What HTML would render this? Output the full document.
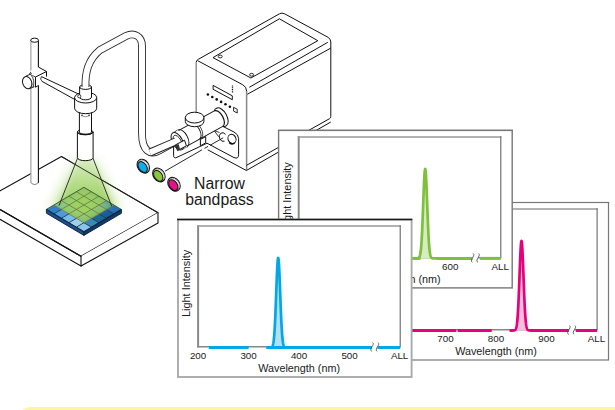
<!DOCTYPE html>
<html><head><meta charset="utf-8"><style>
html,body{margin:0;padding:0;background:#fff;}
body{width:615px;height:410px;overflow:hidden;position:relative;}
svg{position:absolute;left:0;top:0;}
text{font-family:"Liberation Sans",sans-serif;fill:#1a1a1a;}
</style></head><body>
<svg width="615" height="410" viewBox="0 0 615 410">
<defs>
  <radialGradient id="glow" cx="84" cy="200" r="55" gradientUnits="userSpaceOnUse" gradientTransform="translate(84 200) scale(0.95 1.1) translate(-84 -200)">
    <stop offset="0" stop-color="#9fd86a" stop-opacity="0.95"/>
    <stop offset="0.45" stop-color="#bfe39a" stop-opacity="0.7"/>
    <stop offset="1" stop-color="#ffffff" stop-opacity="0"/>
  </radialGradient>
  <linearGradient id="cone" x1="0" y1="157" x2="0" y2="210" gradientUnits="userSpaceOnUse">
    <stop offset="0" stop-color="#d8eec0"/>
    <stop offset="0.5" stop-color="#b0da80"/>
    <stop offset="1" stop-color="#8ecb4c"/>
  </linearGradient>
</defs>
<g stroke="#111" stroke-width="1.1" fill="none" stroke-linejoin="round" stroke-linecap="round">
  <!-- platform -->
  <path d="M61.5 156.6 L158 212.7 L81 256.3 L-16.4 200 Z" fill="#fff"/>
  <path d="M158 212.7 V222.9 L81 266.1 V256.3" fill="#fff"/>
  <path d="M0 209.5 L81 256.3" />
  <path d="M0 219.3 L81 266.1" />
</g>
<!-- glow -->
<filter id="blur" x="-50%" y="-50%" width="200%" height="200%"><feGaussianBlur stdDeviation="6"/></filter>
<filter id="blur2" x="-50%" y="-50%" width="200%" height="200%"><feGaussianBlur stdDeviation="2.5"/></filter>
<path d="M74 160 L50 210 L120 210 L97 160 Z" fill="url(#cone)" filter="url(#blur)" opacity="0.55"/>
<path d="M78 158 L59 206 L112 206 L93 158 Z" fill="url(#cone)" filter="url(#blur2)" opacity="0.85"/>
<path d="M61.5 156.6 L158 212.7" stroke="#222" stroke-width="0.9" fill="none"/>
<!-- chip -->
<g>
<path d="M46.4 209.4 L83.9 231.6 V235.4 L46.4 213.2 Z" fill="#1a4f8c" stroke="#0d1f38" stroke-width="0.9" stroke-linejoin="round"/>
<path d="M121.4 209.5 L83.9 231.6 V235.4 L121.4 213.3 Z" fill="#123a68" stroke="#0d1f38" stroke-width="0.9" stroke-linejoin="round"/>
<path d="M46.40 209.40 L53.90 204.98 L61.40 209.42 L53.90 213.84Z" fill="#2f80c8"/>
<path d="M53.90 213.84 L61.40 209.42 L68.90 213.86 L61.40 218.28Z" fill="#4c9bd8"/>
<path d="M61.40 218.28 L68.90 213.86 L76.40 218.30 L68.90 222.72Z" fill="#78bde8"/>
<path d="M68.90 222.72 L76.40 218.30 L83.90 222.74 L76.40 227.16Z" fill="#9ed0ea"/>
<path d="M76.40 227.16 L83.90 222.74 L91.40 227.18 L83.90 231.60Z" fill="#8ac6ec"/>
<path d="M83.90 222.74 L91.40 218.32 L98.90 222.76 L91.40 227.18Z" fill="#3888b8"/>
<path d="M91.40 218.32 L98.90 213.90 L106.40 218.34 L98.90 222.76Z" fill="#1a669a"/>
<path d="M98.90 213.90 L106.40 209.48 L113.90 213.92 L106.40 218.34Z" fill="#155e98"/>
<path d="M106.40 209.48 L113.90 205.06 L121.40 209.50 L113.90 213.92Z" fill="#2470b4"/>
<path d="M53.90 204.98 L61.40 200.56 L68.90 205.00 L61.40 209.42Z" fill="#7ec080"/>
<path d="M61.40 200.56 L68.90 196.14 L76.40 200.58 L68.90 205.00Z" fill="#8cc862"/>
<path d="M68.90 196.14 L76.40 191.72 L83.90 196.16 L76.40 200.58Z" fill="#8ec95e"/>
<path d="M76.40 191.72 L83.90 187.30 L91.40 191.74 L83.90 196.16Z" fill="#8ec860"/>
<path d="M83.90 196.16 L91.40 191.74 L98.90 196.18 L91.40 200.60Z" fill="#8ac65a"/>
<path d="M91.40 200.60 L98.90 196.18 L106.40 200.62 L98.90 205.04Z" fill="#86c45a"/>
<path d="M98.90 205.04 L106.40 200.62 L113.90 205.06 L106.40 209.48Z" fill="#5aa488"/>
<path d="M61.40 209.42 L68.90 205.00 L76.40 209.44 L68.90 213.86Z" fill="#88c660"/>
<path d="M68.90 213.86 L76.40 209.44 L83.90 213.88 L76.40 218.30Z" fill="#8cc864"/>
<path d="M76.40 218.30 L83.90 213.88 L91.40 218.32 L83.90 222.74Z" fill="#86c270"/>
<path d="M68.90 205.00 L76.40 200.58 L83.90 205.02 L76.40 209.44Z" fill="#8cc94c"/>
<path d="M76.40 209.44 L83.90 205.02 L91.40 209.46 L83.90 213.88Z" fill="#90cb4a"/>
<path d="M83.90 213.88 L91.40 209.46 L98.90 213.90 L91.40 218.32Z" fill="#82c058"/>
<path d="M76.40 200.58 L83.90 196.16 L91.40 200.60 L83.90 205.02Z" fill="#8cc94c"/>
<path d="M83.90 205.02 L91.40 200.60 L98.90 205.04 L91.40 209.46Z" fill="#8ac850"/>
<path d="M91.40 209.46 L98.90 205.04 L106.40 209.48 L98.90 213.90Z" fill="#78b866"/>
<path d="M59 206 L83.9 191 L112 206 L84 218 Z" fill="#b8e08a" opacity="0.35" filter="url(#blur2)"/>
<line x1="53.90" y1="204.98" x2="83.90" y2="222.74" stroke="#6a7440" stroke-width="0.9" stroke-opacity="0.9"/>
<line x1="83.90" y1="222.74" x2="91.40" y2="227.18" stroke="#1b3350" stroke-width="0.9"/>
<line x1="53.90" y1="213.84" x2="61.40" y2="209.42" stroke="#1b3350" stroke-width="0.9"/>
<line x1="61.40" y1="209.42" x2="91.40" y2="191.74" stroke="#6a7440" stroke-width="0.9" stroke-opacity="0.9"/>
<line x1="61.40" y1="200.56" x2="91.40" y2="218.32" stroke="#6a7440" stroke-width="0.9" stroke-opacity="0.9"/>
<line x1="91.40" y1="218.32" x2="98.90" y2="222.76" stroke="#1b3350" stroke-width="0.9"/>
<line x1="61.40" y1="218.28" x2="68.90" y2="213.86" stroke="#1b3350" stroke-width="0.9"/>
<line x1="68.90" y1="213.86" x2="98.90" y2="196.18" stroke="#6a7440" stroke-width="0.9" stroke-opacity="0.9"/>
<line x1="68.90" y1="196.14" x2="98.90" y2="213.90" stroke="#6a7440" stroke-width="0.9" stroke-opacity="0.9"/>
<line x1="98.90" y1="213.90" x2="106.40" y2="218.34" stroke="#1b3350" stroke-width="0.9"/>
<line x1="68.90" y1="222.72" x2="76.40" y2="218.30" stroke="#1b3350" stroke-width="0.9"/>
<line x1="76.40" y1="218.30" x2="106.40" y2="200.62" stroke="#6a7440" stroke-width="0.9" stroke-opacity="0.9"/>
<line x1="76.40" y1="191.72" x2="106.40" y2="209.48" stroke="#6a7440" stroke-width="0.9" stroke-opacity="0.9"/>
<line x1="106.40" y1="209.48" x2="113.90" y2="213.92" stroke="#1b3350" stroke-width="0.9"/>
<line x1="76.40" y1="227.16" x2="83.90" y2="222.74" stroke="#1b3350" stroke-width="0.9"/>
<line x1="83.90" y1="222.74" x2="113.90" y2="205.06" stroke="#6a7440" stroke-width="0.9" stroke-opacity="0.9"/>
<path d="M46.4 209.4 L83.9 187.3 L121.4 209.5" fill="none" stroke="#4a5a3a" stroke-width="1" stroke-linejoin="round"/>
<path d="M46.4 209.4 L83.9 231.6 L121.4 209.5" fill="none" stroke="#0d1f38" stroke-width="1.1" stroke-linejoin="round"/>
</g>
<path d="M77.8 157.5 L59 205.6 M92.7 157.5 L111.7 206.3" stroke="#222" stroke-width="0.9" fill="none"/>
<!-- pole -->
<g stroke-linejoin="round">
  <rect x="30.9" y="40" width="7.5" height="143.5" fill="#fff" stroke="none"/>
  <path d="M30.9 40 V182.7 Q34.6 186.5 38.4 182.7" fill="none" stroke="#999" stroke-width="1.1"/>
  <path d="M38.4 40 V182.7" fill="none" stroke="#111" stroke-width="1.1"/>
  <ellipse cx="34.6" cy="40.2" rx="3.9" ry="2.1" fill="#fff" stroke="#111" stroke-width="1"/>
</g>
<g stroke="#111" stroke-width="1" fill="#fff" stroke-linejoin="round">
  <!-- clamp block -->
  <path d="M27.5 73.7 L31 70.2 L38.5 67.1 L46.5 71.5 V76.6 L38.5 85.4 L35.5 87.2 L28 83 Z" stroke="none"/>
  <path d="M38.5 67.1 L46.5 71.5 L35.5 77 M35.5 77 V87.2 L38.5 85.4 M46.5 71.5 V76.6" fill="none"/>
  <path d="M35.5 77 L29.5 74 M29.5 74 L31 72" fill="none" stroke-width="0.8"/>
  <!-- knob -->
  <path d="M25.5 76.2 L31.8 73.6 L35.2 86.4 L29 88.8 Z" stroke="none"/>
  <path d="M26 76.1 L31.8 73.6 M29 88.8 L34.5 86.6" fill="none" stroke-width="0.9"/>
  <path d="M30.5 74.3 Q35.5 80 33 87.3" fill="none" stroke-width="0.8"/>
  <ellipse cx="27.2" cy="82.6" rx="4.5" ry="6.2" transform="rotate(-20 27.2 82.6)"/>
  <!-- arm rod -->
  <path d="M41.4 76.6 L78.7 94.1 L74.8 99.5 L42.1 81.4 Z" stroke="none"/>
  <path d="M41.4 76.6 L78.7 94.1 M42.1 81.4 L74.8 99.5" fill="none"/>
  <path d="M41.4 76.6 Q39.5 79 42.1 81.4" fill="none" stroke-width="0.8"/>
</g>
<!-- fiber tube -->
<path d="M85.5 88 C85 72 88 60 100 50 L126 36 C134 32 142 36 142 46 V133 C142 151 150 156 160 150.1 L176 141.4" fill="none" stroke="#2a2a2a" stroke-width="7.8" stroke-linecap="butt"/>
<path d="M85.5 88 C85 72 88 60 100 50 L126 36 C134 32 142 36 142 46 V133 C142 151 150 156 160 150.1 L176 141.4" fill="none" stroke="#fff" stroke-width="6" stroke-linecap="butt"/>
<!-- lamp head -->
<g stroke="#111" stroke-width="1" fill="#fff" stroke-linejoin="round">
  <path d="M77.4 132 V157.7 A7.85 3 0 0 0 93.1 157.7 V132 Z"/>
  <ellipse cx="85.25" cy="132" rx="7.85" ry="2.7"/>
  <path d="M79.4 112 V132.3 A6 1.8 0 0 0 91.5 132.3 V112 Z"/>
  <path d="M77.4 132 A7.85 2.7 0 0 0 93.1 132" fill="none"/>
  <circle cx="82" cy="115.3" r="0.9" fill="#333" stroke="none"/>
  <circle cx="89" cy="115.3" r="0.9" fill="#333" stroke="none"/>
  <path d="M82.5 116 Q85.5 117.5 88.5 116" fill="none" stroke="#777" stroke-width="0.8"/>
  <path d="M74.6 97.6 V108.3 A11.05 5.4 0 0 0 96.7 108.3 V97.6 Z"/>
  <ellipse cx="85.65" cy="97.6" rx="11.05" ry="5.4"/>
  <path d="M79.6 87 V97 A5.95 2.8 0 0 0 91.5 97 V87" />
  <path d="M79.6 87 A5.95 2.4 0 0 0 91.5 87" fill="none"/>
  <path d="M79.6 87 A5.95 2.4 0 0 1 81.8 85.2 M91.5 87 A5.95 2.4 0 0 0 89.3 85.2" fill="none"/>
  <circle cx="79.3" cy="96.3" r="1.6" fill="#fff" stroke-width="0.8"/>
</g>
<!-- light source box -->
<g stroke="#111" stroke-width="1" fill="#fff" stroke-linejoin="round">
  <path d="M196.2 143.8 V62.5 Q196.2 60.3 198.5 59.2 L279.5 13.8 Q282 12.4 284.6 13.8 L328 37.3 Q330.8 38.9 330.8 42 V122.5 L246.4 170.5 Z" stroke="none"/>
  <path d="M196.2 62.5 Q196.2 60.3 198.5 59.2 L279.5 13.8 Q282 12.4 284.6 13.8 L328 37.3 Q330.8 38.9 330.8 42 V116.5 Q330.8 118 329.5 118.7" fill="none"/>
  <path d="M196.2 62.5 V120" fill="none" stroke="#888" stroke-width="1.4"/>
  <path d="M197.5 60.6 L242.8 84.8 Q246.6 87 246.6 91" fill="none"/>
  <path d="M246.6 91 V170" fill="none" stroke="#888" stroke-width="1.5"/>
  <path d="M246.4 165.4 L329.5 118.7 M246.4 170.5 L330.8 122" fill="none"/>
  <path d="M249.3 87.3 L327.8 42.3" fill="none"/>
  <path d="M247.3 94.3 L330.8 48.1" fill="none"/>
  <path d="M213 57.6 L279.4 18.8 L317.8 40.7 L250.9 78 Z" fill="none"/>
  <ellipse cx="220.2" cy="56.5" rx="2" ry="1.4" stroke-width="0.9"/>
  <ellipse cx="251.6" cy="74.8" rx="2" ry="1.4" stroke-width="0.9"/>
  <path d="M213.1 85.4 L232.3 95.8 V99.7 L213.1 89.3 Z"/>
</g>
<!-- box front details -->
<g stroke="#111" stroke-width="1" fill="none">
  <path d="M232.5 85.4 V93.1" stroke-dasharray="1 0.8" stroke-width="1.3"/>
  <g fill="#111" stroke="none">
    <circle cx="207.9" cy="94.5" r="1.3"/><circle cx="212.3" cy="97" r="1.3"/><circle cx="216.7" cy="99.4" r="1.3"/>
    <circle cx="221.1" cy="101.9" r="1.3"/><circle cx="225.5" cy="104.3" r="1.3"/><circle cx="229.9" cy="106.8" r="1.3"/>
  </g>
  <path d="M233.6 107.3 L237.2 109.2 V113 L233.6 111.1 Z" stroke-width="0.9"/>
</g>
<!-- plate -->
<g stroke="#111" stroke-width="1" fill="#fff" stroke-linejoin="round">
  <path d="M207.7 149.8 L246.4 170.5" fill="none"/>
  <path d="M221.3 125.6 L234 132 Q238.6 134.5 238.6 138.5 V154.5 Q238.6 159.5 234 157.6 L207 143.2 L177 157.3 Q173.6 159 173.6 155.3 V137.6 Q173.6 134 177 132.5 Z"/>
  <path d="M225.5 134.3 A3.6 4.4 -20 1 0 224.5 141.2" fill="none"/>
  <ellipse cx="232" cy="138.9" rx="3.9" ry="4.7" transform="rotate(-25 232 138.9)"/>
  <path d="M229.2 142.5 A3.9 4.7 -25 0 0 234.6 143" fill="none" stroke-width="1.6"/>
  <path d="M200.4 139.5 L205.7 136.6 V142.9 L200.4 145.8 Z"/>
  <path d="M214 130.5 L219.5 132.5 M214.5 131 L218.6 136.8" fill="none" stroke-width="0.8"/>
</g>
<!-- connector cylinder -->
<g transform="translate(180 139.8) rotate(-28.8)" stroke="#111" stroke-width="1" fill="#fff" stroke-linejoin="round">
  <path d="M0 -8.8 H44 L45.5 -10 H47.3 A5.4 10 0 0 1 47.3 10 H45.5 L44 8.8 H0 Z" stroke="none"/>
  <path d="M3 -8.8 H44 M3 8.8 H44" fill="none"/>
  <path d="M44 -8.8 L45.5 -10 H47.3 A5.4 10 0 0 1 47.3 10 H45.5 L44 8.8" fill="none"/>
  <path d="M44 -8.8 A4.6 8.8 0 0 1 44 8.8" fill="none" stroke-width="1.2"/>
  <path d="M17.5 -8.8 A4.5 8.8 0 0 1 17.5 8.8" fill="none" stroke-width="0.9"/>
  <path d="M19.5 -8.6 A4.5 8.6 0 0 1 19.5 8.6" fill="none" stroke-width="0.7"/>
  <path d="M-3 -9.6 H3 V9.6 H-3 Z" stroke="none"/>
  <path d="M-3 -9.6 H3 M-3 9.6 H3" fill="none" stroke-dasharray="0.8 0.6"/>
  <ellipse cx="-3" cy="0" rx="5" ry="9.6"/>
  <ellipse cx="-3" cy="0.5" rx="3.5" ry="7" fill="none" stroke-width="0.8"/>
  <path d="M3 -9.6 A5 9.6 0 0 1 3 9.6" fill="none" stroke-width="0.9"/>
</g>
<!-- fiber tube into collar -->
<path d="M150 152.5 L176 141.4" fill="none" stroke="#222" stroke-width="7.9"/>
<path d="M150 152.5 L176.5 141.1" fill="none" stroke="#fff" stroke-width="6"/>
<g stroke="#111" stroke-width="1" fill="#fff" stroke-linejoin="round">
  <path d="M175.6 144.8 L184.5 140.2 L186.4 145.8 L177.5 150.6 Z"/>
  <path d="M175.9 145.2 L178.5 143.8 L180 149.3 L177.6 150.5 Z" fill="#333" stroke="none"/>
</g>
<!-- knob -->
<g stroke="#111" stroke-width="1" fill="#fff">
  <path d="M185.3 117.6 V121.5 A9.3 5.2 0 0 0 203.9 121.5 V117.6 Z"/>
  <ellipse cx="194.6" cy="117.6" rx="9.3" ry="5.4"/>
</g>
<!-- filters -->
<g stroke="#111" stroke-width="1.1">
  <g transform="translate(143.3 166.2) rotate(-35)">
    <ellipse cx="0" cy="0" rx="5.6" ry="7.4" fill="#fff"/>
    <ellipse cx="0.6" cy="0" rx="4.2" ry="6.3" fill="none" stroke="#999" stroke-width="0.8"/>
    <ellipse cx="-1" cy="0.3" rx="3.9" ry="6" fill="#10aee8" stroke="#111" stroke-width="1"/>
  </g>
  <g transform="translate(158.9 175) rotate(-35)">
    <ellipse cx="0" cy="0" rx="5.6" ry="7.4" fill="#fff"/>
    <ellipse cx="0.6" cy="0" rx="4.2" ry="6.3" fill="none" stroke="#999" stroke-width="0.8"/>
    <ellipse cx="-1" cy="0.3" rx="3.9" ry="6" fill="#8cc63f" stroke="#111" stroke-width="1"/>
  </g>
  <g transform="translate(174 184.3) rotate(-35)">
    <ellipse cx="0" cy="0" rx="5.6" ry="7.4" fill="#fff"/>
    <ellipse cx="0.6" cy="0" rx="4.2" ry="6.3" fill="none" stroke="#999" stroke-width="0.8"/>
    <ellipse cx="-1" cy="0.3" rx="3.9" ry="6" fill="#e5128a" stroke="#111" stroke-width="1"/>
  </g>
</g>
<path d="M165 171.2 L202 149.8 M204.5 148.4 L208 146.4 M210 145.3 L223.2 137.8" stroke="#111" stroke-width="0.9" fill="none"/>
<text x="219.5" y="188.7" font-size="15.8" text-anchor="middle">Narrow</text>
<text x="219.5" y="204.6" font-size="15.8" text-anchor="middle">bandpass</text>

<rect x="374.9" y="202.5" width="233.6" height="157.5" fill="#fff" stroke="#777" stroke-width="1.2"/>
<line x1="374.29999999999995" y1="202.5" x2="609.2" y2="202.5" stroke="#777" stroke-width="1.2"/>
<line x1="395.0" y1="330.5" x2="395.0" y2="208.25" stroke="#8a8a8a" stroke-width="2"/>
<line x1="394.0" y1="209.0" x2="597.5999999999999" y2="209.0" stroke="#999" stroke-width="1.5"/>
<line x1="597.0999999999999" y1="208.25" x2="597.0999999999999" y2="329.8" stroke="#666" stroke-width="1.1"/>
<line x1="394.0" y1="329.8" x2="597.5999999999999" y2="329.8" stroke="#888" stroke-width="1.5"/>
<path d="M509.50 330.50 L509.75 330.50 L510.00 330.50 L510.25 330.50 L510.50 330.50 L510.75 330.50 L511.00 330.50 L511.25 330.50 L511.50 330.50 L511.75 330.50 L512.00 330.50 L512.25 330.50 L512.50 330.50 L512.75 330.49 L513.00 330.49 L513.25 330.48 L513.50 330.47 L513.75 330.45 L514.00 330.42 L514.25 330.37 L514.50 330.30 L514.75 330.20 L515.00 330.04 L515.25 329.82 L515.50 329.51 L515.75 329.06 L516.00 328.46 L516.25 327.65 L516.50 326.57 L516.75 325.17 L517.00 323.38 L517.25 321.14 L517.50 318.39 L517.75 315.07 L518.00 311.14 L518.25 306.60 L518.50 301.44 L518.75 295.72 L519.00 289.52 L519.25 282.97 L519.50 276.22 L519.75 269.47 L520.00 262.94 L520.25 256.88 L520.50 251.52 L520.75 247.08 L521.00 243.75 L521.25 241.70 L521.50 241.00 L521.75 241.70 L522.00 243.75 L522.25 247.08 L522.50 251.52 L522.75 256.88 L523.00 262.94 L523.25 269.47 L523.50 276.22 L523.75 282.97 L524.00 289.52 L524.25 295.72 L524.50 301.44 L524.75 306.60 L525.00 311.14 L525.25 315.07 L525.50 318.39 L525.75 321.14 L526.00 323.38 L526.25 325.17 L526.50 326.57 L526.75 327.65 L527.00 328.46 L527.25 329.06 L527.50 329.51 L527.75 329.82 L528.00 330.04 L528.25 330.20 L528.50 330.30 L528.75 330.37 L529.00 330.42 L529.25 330.45 L529.50 330.47 L529.75 330.48 L530.00 330.49 L530.25 330.49 L530.50 330.50 L530.75 330.50 L531.00 330.50 L531.25 330.50 L531.50 330.50 L531.75 330.50 L532.00 330.50 L532.25 330.50 L532.50 330.50 L532.75 330.50 L533.00 330.50 L533.25 330.50 L533.50 330.50 Z" fill="#f5c0da" stroke="none"/>
<path d="M509.50 330.50 L509.75 330.50 L510.00 330.50 L510.25 330.50 L510.50 330.50 L510.75 330.50 L511.00 330.50 L511.25 330.50 L511.50 330.50 L511.75 330.50 L512.00 330.50 L512.25 330.50 L512.50 330.50 L512.75 330.49 L513.00 330.49 L513.25 330.48 L513.50 330.47 L513.75 330.45 L514.00 330.42 L514.25 330.37 L514.50 330.30 L514.75 330.20 L515.00 330.04 L515.25 329.82 L515.50 329.51 L515.75 329.06 L516.00 328.46 L516.25 327.65 L516.50 326.57 L516.75 325.17 L517.00 323.38 L517.25 321.14 L517.50 318.39 L517.75 315.07 L518.00 311.14 L518.25 306.60 L518.50 301.44 L518.75 295.72 L519.00 289.52 L519.25 282.97 L519.50 276.22 L519.75 269.47 L520.00 262.94 L520.25 256.88 L520.50 251.52 L520.75 247.08 L521.00 243.75 L521.25 241.70 L521.50 241.00 L521.75 241.70 L522.00 243.75 L522.25 247.08 L522.50 251.52 L522.75 256.88 L523.00 262.94 L523.25 269.47 L523.50 276.22 L523.75 282.97 L524.00 289.52 L524.25 295.72 L524.50 301.44 L524.75 306.60 L525.00 311.14 L525.25 315.07 L525.50 318.39 L525.75 321.14 L526.00 323.38 L526.25 325.17 L526.50 326.57 L526.75 327.65 L527.00 328.46 L527.25 329.06 L527.50 329.51 L527.75 329.82 L528.00 330.04 L528.25 330.20 L528.50 330.30 L528.75 330.37 L529.00 330.42 L529.25 330.45 L529.50 330.47 L529.75 330.48 L530.00 330.49 L530.25 330.49 L530.50 330.50 L530.75 330.50 L531.00 330.50 L531.25 330.50 L531.50 330.50 L531.75 330.50 L532.00 330.50 L532.25 330.50 L532.50 330.50 L532.75 330.50 L533.00 330.50 L533.25 330.50 L533.50 330.50" fill="none" stroke="#e6007e" stroke-width="2.7" stroke-linejoin="round"/>
<line x1="400" y1="330.5" x2="456.3" y2="330.5" stroke="#e6007e" stroke-width="3"/>
<line x1="457.6" y1="330.5" x2="491.7" y2="330.5" stroke="#e6007e" stroke-width="3"/>
<line x1="510.5" y1="330.5" x2="513.5" y2="330.5" stroke="#e6007e" stroke-width="3"/>
<line x1="530" y1="330.5" x2="573" y2="330.5" stroke="#e6007e" stroke-width="3"/>
<line x1="575.8" y1="330.5" x2="597.0999999999999" y2="330.5" stroke="#e6007e" stroke-width="3"/>
<rect x="568.9" y="328.5" width="5.4" height="4" fill="#fff"/>
<path d="M569.5 325.5 C571.1 326.8 569.4 328.8 568.3 330.8 S567.6999999999999 333.8 568.6999999999999 334.5" fill="none" stroke="#555" stroke-width="0.9"/>
<path d="M575.0 325.5 C576.6 326.8 574.9 328.8 573.8 330.8 S573.1999999999999 333.8 574.1999999999999 334.5" fill="none" stroke="#555" stroke-width="0.9"/>
<text x="445.5" y="341.8" font-size="9.8" text-anchor="middle">700</text>
<text x="496.0" y="341.8" font-size="9.8" text-anchor="middle">800</text>
<text x="546.5" y="341.8" font-size="9.8" text-anchor="middle">900</text>
<text x="596.5" y="341.8" font-size="9.8" text-anchor="middle">ALL</text>
<text x="496.04999999999995" y="355.0" font-size="10.8" text-anchor="middle">Wavelength (nm)</text>
<text transform="translate(387.2 266.4) rotate(-90)" font-size="10.9" text-anchor="middle">Light Intensity</text>
<rect x="278.6" y="130.4" width="233.6" height="157.5" fill="#fff" stroke="#777" stroke-width="1.4"/>
<line x1="277.90000000000003" y1="130.4" x2="512.9000000000001" y2="130.4" stroke="#777" stroke-width="1.4"/>
<line x1="298.70000000000005" y1="258.4" x2="298.70000000000005" y2="136.15" stroke="#8a8a8a" stroke-width="2"/>
<line x1="297.70000000000005" y1="136.9" x2="501.3" y2="136.9" stroke="#999" stroke-width="1.5"/>
<line x1="500.8" y1="136.15" x2="500.8" y2="257.7" stroke="#666" stroke-width="1.1"/>
<line x1="297.70000000000005" y1="257.7" x2="501.3" y2="257.7" stroke="#888" stroke-width="1.5"/>
<path d="M413.20 258.40 L413.45 258.40 L413.70 258.40 L413.95 258.40 L414.20 258.40 L414.45 258.40 L414.70 258.40 L414.95 258.40 L415.20 258.40 L415.45 258.40 L415.70 258.40 L415.95 258.40 L416.20 258.40 L416.45 258.39 L416.70 258.39 L416.95 258.38 L417.20 258.37 L417.45 258.35 L417.70 258.32 L417.95 258.27 L418.20 258.20 L418.45 258.10 L418.70 257.94 L418.95 257.72 L419.20 257.41 L419.45 256.96 L419.70 256.36 L419.95 255.55 L420.20 254.47 L420.45 253.07 L420.70 251.28 L420.95 249.04 L421.20 246.29 L421.45 242.97 L421.70 239.04 L421.95 234.50 L422.20 229.34 L422.45 223.62 L422.70 217.42 L422.95 210.87 L423.20 204.12 L423.45 197.37 L423.70 190.84 L423.95 184.78 L424.20 179.42 L424.45 174.98 L424.70 171.65 L424.95 169.60 L425.20 168.90 L425.45 169.60 L425.70 171.65 L425.95 174.98 L426.20 179.42 L426.45 184.78 L426.70 190.84 L426.95 197.37 L427.20 204.12 L427.45 210.87 L427.70 217.42 L427.95 223.62 L428.20 229.34 L428.45 234.50 L428.70 239.04 L428.95 242.97 L429.20 246.29 L429.45 249.04 L429.70 251.28 L429.95 253.07 L430.20 254.47 L430.45 255.55 L430.70 256.36 L430.95 256.96 L431.20 257.41 L431.45 257.72 L431.70 257.94 L431.95 258.10 L432.20 258.20 L432.45 258.27 L432.70 258.32 L432.95 258.35 L433.20 258.37 L433.45 258.38 L433.70 258.39 L433.95 258.39 L434.20 258.40 L434.45 258.40 L434.70 258.40 L434.95 258.40 L435.20 258.40 L435.45 258.40 L435.70 258.40 L435.95 258.40 L436.20 258.40 L436.45 258.40 L436.70 258.40 L436.95 258.40 L437.20 258.40 Z" fill="#d8ecc4" stroke="none"/>
<path d="M413.20 258.40 L413.45 258.40 L413.70 258.40 L413.95 258.40 L414.20 258.40 L414.45 258.40 L414.70 258.40 L414.95 258.40 L415.20 258.40 L415.45 258.40 L415.70 258.40 L415.95 258.40 L416.20 258.40 L416.45 258.39 L416.70 258.39 L416.95 258.38 L417.20 258.37 L417.45 258.35 L417.70 258.32 L417.95 258.27 L418.20 258.20 L418.45 258.10 L418.70 257.94 L418.95 257.72 L419.20 257.41 L419.45 256.96 L419.70 256.36 L419.95 255.55 L420.20 254.47 L420.45 253.07 L420.70 251.28 L420.95 249.04 L421.20 246.29 L421.45 242.97 L421.70 239.04 L421.95 234.50 L422.20 229.34 L422.45 223.62 L422.70 217.42 L422.95 210.87 L423.20 204.12 L423.45 197.37 L423.70 190.84 L423.95 184.78 L424.20 179.42 L424.45 174.98 L424.70 171.65 L424.95 169.60 L425.20 168.90 L425.45 169.60 L425.70 171.65 L425.95 174.98 L426.20 179.42 L426.45 184.78 L426.70 190.84 L426.95 197.37 L427.20 204.12 L427.45 210.87 L427.70 217.42 L427.95 223.62 L428.20 229.34 L428.45 234.50 L428.70 239.04 L428.95 242.97 L429.20 246.29 L429.45 249.04 L429.70 251.28 L429.95 253.07 L430.20 254.47 L430.45 255.55 L430.70 256.36 L430.95 256.96 L431.20 257.41 L431.45 257.72 L431.70 257.94 L431.95 258.10 L432.20 258.20 L432.45 258.27 L432.70 258.32 L432.95 258.35 L433.20 258.37 L433.45 258.38 L433.70 258.39 L433.95 258.39 L434.20 258.40 L434.45 258.40 L434.70 258.40 L434.95 258.40 L435.20 258.40 L435.45 258.40 L435.70 258.40 L435.95 258.40 L436.20 258.40 L436.45 258.40 L436.70 258.40 L436.95 258.40 L437.20 258.40" fill="none" stroke="#7dc03a" stroke-width="2.7" stroke-linejoin="round"/>
<line x1="400" y1="258.4" x2="420.6" y2="258.4" stroke="#7dc03a" stroke-width="3"/>
<line x1="437" y1="258.4" x2="477" y2="258.4" stroke="#7dc03a" stroke-width="3"/>
<line x1="479.8" y1="258.4" x2="500.8" y2="258.4" stroke="#7dc03a" stroke-width="3"/>
<rect x="472.6" y="256.4" width="5.4" height="4" fill="#fff"/>
<path d="M473.20000000000005 253.39999999999998 C474.8 254.7 473.1 256.7 472.0 258.7 S471.40000000000003 261.7 472.40000000000003 262.4" fill="none" stroke="#555" stroke-width="0.9"/>
<path d="M478.70000000000005 253.39999999999998 C480.3 254.7 478.6 256.7 477.5 258.7 S476.90000000000003 261.7 477.90000000000003 262.4" fill="none" stroke="#555" stroke-width="0.9"/>
<text x="298.70000000000005" y="269.70000000000005" font-size="9.8" text-anchor="middle">300</text>
<text x="349.20000000000005" y="269.70000000000005" font-size="9.8" text-anchor="middle">400</text>
<text x="399.70000000000005" y="269.70000000000005" font-size="9.8" text-anchor="middle">500</text>
<text x="450.20000000000005" y="269.70000000000005" font-size="9.8" text-anchor="middle">600</text>
<text x="500.20000000000005" y="269.70000000000005" font-size="9.8" text-anchor="middle">ALL</text>
<text x="399.75" y="282.9" font-size="10.8" text-anchor="middle">Wavelength (nm)</text>
<text transform="translate(290.90000000000003 195.8) rotate(-90)" font-size="10.9" text-anchor="middle">Light Intensity</text>
<rect x="178" y="219.5" width="233.6" height="157.5" fill="#fff" stroke="#aaa" stroke-width="1.9"/>
<line x1="177.05" y1="219.5" x2="412.3" y2="219.5" stroke="#1a1a1a" stroke-width="1.3"/>
<line x1="198.1" y1="347.5" x2="198.1" y2="225.25" stroke="#8a8a8a" stroke-width="2"/>
<line x1="197.1" y1="226.0" x2="400.7" y2="226.0" stroke="#999" stroke-width="1.5"/>
<line x1="400.2" y1="225.25" x2="400.2" y2="346.8" stroke="#666" stroke-width="1.1"/>
<line x1="197.1" y1="346.8" x2="400.7" y2="346.8" stroke="#888" stroke-width="1.5"/>
<path d="M266.20 347.50 L266.45 347.50 L266.70 347.50 L266.95 347.50 L267.20 347.50 L267.45 347.50 L267.70 347.50 L267.95 347.50 L268.20 347.50 L268.45 347.50 L268.70 347.50 L268.95 347.50 L269.20 347.50 L269.45 347.49 L269.70 347.49 L269.95 347.48 L270.20 347.47 L270.45 347.45 L270.70 347.42 L270.95 347.37 L271.20 347.30 L271.45 347.20 L271.70 347.04 L271.95 346.82 L272.20 346.51 L272.45 346.06 L272.70 345.46 L272.95 344.65 L273.20 343.57 L273.45 342.17 L273.70 340.38 L273.95 338.14 L274.20 335.39 L274.45 332.07 L274.70 328.14 L274.95 323.60 L275.20 318.44 L275.45 312.72 L275.70 306.52 L275.95 299.97 L276.20 293.22 L276.45 286.47 L276.70 279.94 L276.95 273.88 L277.20 268.52 L277.45 264.08 L277.70 260.75 L277.95 258.70 L278.20 258.00 L278.45 258.70 L278.70 260.75 L278.95 264.08 L279.20 268.52 L279.45 273.88 L279.70 279.94 L279.95 286.47 L280.20 293.22 L280.45 299.97 L280.70 306.52 L280.95 312.72 L281.20 318.44 L281.45 323.60 L281.70 328.14 L281.95 332.07 L282.20 335.39 L282.45 338.14 L282.70 340.38 L282.95 342.17 L283.20 343.57 L283.45 344.65 L283.70 345.46 L283.95 346.06 L284.20 346.51 L284.45 346.82 L284.70 347.04 L284.95 347.20 L285.20 347.30 L285.45 347.37 L285.70 347.42 L285.95 347.45 L286.20 347.47 L286.45 347.48 L286.70 347.49 L286.95 347.49 L287.20 347.50 L287.45 347.50 L287.70 347.50 L287.95 347.50 L288.20 347.50 L288.45 347.50 L288.70 347.50 L288.95 347.50 L289.20 347.50 L289.45 347.50 L289.70 347.50 L289.95 347.50 L290.20 347.50 Z" fill="#b3def4" stroke="none"/>
<path d="M266.20 347.50 L266.45 347.50 L266.70 347.50 L266.95 347.50 L267.20 347.50 L267.45 347.50 L267.70 347.50 L267.95 347.50 L268.20 347.50 L268.45 347.50 L268.70 347.50 L268.95 347.50 L269.20 347.50 L269.45 347.49 L269.70 347.49 L269.95 347.48 L270.20 347.47 L270.45 347.45 L270.70 347.42 L270.95 347.37 L271.20 347.30 L271.45 347.20 L271.70 347.04 L271.95 346.82 L272.20 346.51 L272.45 346.06 L272.70 345.46 L272.95 344.65 L273.20 343.57 L273.45 342.17 L273.70 340.38 L273.95 338.14 L274.20 335.39 L274.45 332.07 L274.70 328.14 L274.95 323.60 L275.20 318.44 L275.45 312.72 L275.70 306.52 L275.95 299.97 L276.20 293.22 L276.45 286.47 L276.70 279.94 L276.95 273.88 L277.20 268.52 L277.45 264.08 L277.70 260.75 L277.95 258.70 L278.20 258.00 L278.45 258.70 L278.70 260.75 L278.95 264.08 L279.20 268.52 L279.45 273.88 L279.70 279.94 L279.95 286.47 L280.20 293.22 L280.45 299.97 L280.70 306.52 L280.95 312.72 L281.20 318.44 L281.45 323.60 L281.70 328.14 L281.95 332.07 L282.20 335.39 L282.45 338.14 L282.70 340.38 L282.95 342.17 L283.20 343.57 L283.45 344.65 L283.70 345.46 L283.95 346.06 L284.20 346.51 L284.45 346.82 L284.70 347.04 L284.95 347.20 L285.20 347.30 L285.45 347.37 L285.70 347.42 L285.95 347.45 L286.20 347.47 L286.45 347.48 L286.70 347.49 L286.95 347.49 L287.20 347.50 L287.45 347.50 L287.70 347.50 L287.95 347.50 L288.20 347.50 L288.45 347.50 L288.70 347.50 L288.95 347.50 L289.20 347.50 L289.45 347.50 L289.70 347.50 L289.95 347.50 L290.20 347.50" fill="none" stroke="#00a8e9" stroke-width="2.7" stroke-linejoin="round"/>
<line x1="208.8" y1="347.5" x2="248.6" y2="347.5" stroke="#00a8e9" stroke-width="3"/>
<line x1="266.7" y1="347.5" x2="374" y2="347.5" stroke="#00a8e9" stroke-width="3"/>
<line x1="377" y1="347.5" x2="400.2" y2="347.5" stroke="#00a8e9" stroke-width="3"/>
<rect x="372.0" y="345.5" width="5.4" height="4" fill="#fff"/>
<path d="M372.6 342.5 C374.2 343.8 372.5 345.8 371.4 347.8 S370.8 350.8 371.8 351.5" fill="none" stroke="#555" stroke-width="0.9"/>
<path d="M378.1 342.5 C379.7 343.8 378.0 345.8 376.9 347.8 S376.3 350.8 377.3 351.5" fill="none" stroke="#555" stroke-width="0.9"/>
<text x="198.1" y="358.8" font-size="9.8" text-anchor="middle">200</text>
<text x="248.6" y="358.8" font-size="9.8" text-anchor="middle">300</text>
<text x="299.1" y="358.8" font-size="9.8" text-anchor="middle">400</text>
<text x="349.6" y="358.8" font-size="9.8" text-anchor="middle">500</text>
<text x="399.6" y="358.8" font-size="9.8" text-anchor="middle">ALL</text>
<text x="299.15" y="372.0" font-size="10.8" text-anchor="middle">Wavelength (nm)</text>
<text transform="translate(190.3 283.4) rotate(-90)" font-size="10.9" text-anchor="middle">Light Intensity</text>
<path d="M22.5 410 Q26 407 32 407 H615 V410 Z" fill="#fff59e"/>
</svg>
</body></html>
